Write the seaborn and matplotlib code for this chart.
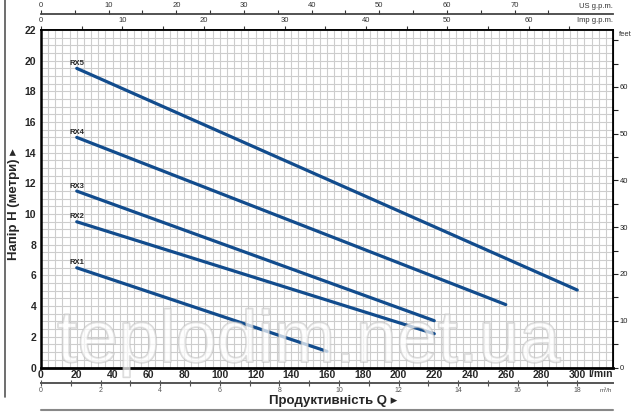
import numpy as np
import pandas as pd
import matplotlib
matplotlib.use("Agg")
import matplotlib.pyplot as plt
import matplotlib.patheffects as pe
from matplotlib.lines import Line2D
from matplotlib.ticker import MultipleLocator, FixedLocator
import seaborn as sns

# ---- data ----
models = ["RX1", "RX2", "RX3", "RX4", "RX5"]
flow_start = [20, 20, 20, 20, 20]          # l/min
flow_end = [160, 220, 220, 260, 300]       # l/min
head_start = [6.5, 9.5, 11.5, 15.0, 19.5]  # m
head_end = [1.05, 2.2, 3.05, 4.1, 5.05]    # m

x_ticks = list(range(0, 301, 20))
y_ticks = list(range(0, 23, 2))
us_gpm_ticks = list(range(0, 71, 10))
imp_gpm_ticks = list(range(0, 61, 10))
m3h_ticks = list(range(0, 19, 2))
feet_ticks = list(range(0, 61, 10))

BLUE = "#124c8d"
FAM = ["Liberation Sans", "DejaVu Sans"]

sns.set_style("white")
plt.rcParams["font.family"] = FAM

fig = plt.figure(figsize=(6.4, 4.16), dpi=100)
W, H = 640, 416
L, R, T, B = 41, 613, 30, 367.5
ax = fig.add_axes([L / W, 1 - B / H, (R - L) / W, (B - T) / H])

df = pd.DataFrame({
    "model": models + models,
    "flow": flow_start + flow_end,
    "head": head_start + head_end,
})
sns.lineplot(data=df, x="flow", y="head", hue="model", palette=[BLUE] * 5,
             linewidth=2.3, legend=False, ax=ax, estimator=None, sort=True)

ax.set_xlim(0, 320)
ax.set_ylim(0, 22)
ax.set_xticks(x_ticks)
ax.set_yticks(y_ticks)
ax.xaxis.set_minor_locator(MultipleLocator(4))
ax.yaxis.set_minor_locator(MultipleLocator(0.5))
ax.grid(which="both", color="#cdcdcd", linewidth=0.8)
ax.set_axisbelow(True)
ax.set_xlabel("")
ax.set_ylabel("")
ax.tick_params(which="both", length=0)
ax.tick_params(axis="x", pad=2)
ax.tick_params(axis="y", pad=3.5)
for lab in ax.get_xticklabels() + ax.get_yticklabels():
    lab.set_fontweight("bold")
    lab.set_fontsize(7.5)

for side, lw in (("left", 1.8), ("bottom", 2.0), ("top", 1.3), ("right", 1.3)):
    ax.spines[side].set_visible(True)
    ax.spines[side].set_color("black")
    ax.spines[side].set_linewidth(lw)

# model labels
for m, x0, y0 in zip(models, flow_start, head_start):
    ax.text(x0 - 4.3, y0 + 0.22, m, fontsize=5.5, fontweight="bold",
            ha="left", va="baseline")

# ---- secondary axes ----
sec_style = dict(direction="out", length=3, width=0.8, labelsize=5.5,
                 pad=1, colors="#333333")

imp = ax.secondary_xaxis("top", functions=(lambda q: q / 4.54609, lambda g: g * 4.54609))
imp.set_xticks(imp_gpm_ticks)
imp.xaxis.set_minor_locator(FixedLocator(list(range(5, 66, 10))))
imp.tick_params(which="both", **sec_style)
imp.spines["top"].set_linewidth(1.3)

us = ax.secondary_xaxis(1 + 15.5 / (B - T),
                        functions=(lambda q: q / 3.785411784, lambda g: g * 3.785411784))
us.set_xticks(us_gpm_ticks)
us.xaxis.set_minor_locator(FixedLocator(list(range(5, 76, 10))))
us.tick_params(which="both", **sec_style)
us.spines["top"].set_color("#444444")
us.spines["top"].set_linewidth(1.3)

m3 = ax.secondary_xaxis(-(383 - B) / (B - T),
                        functions=(lambda q: q * 0.06, lambda v: v / 0.06))
m3.set_xticks(m3h_ticks)
m3.xaxis.set_minor_locator(FixedLocator(list(range(1, 18, 2))))
m3.tick_params(which="both", direction="inout", length=4, width=0.8,
               labelsize=5, pad=1, colors="#555555")
m3.spines["bottom"].set_color("#555555")
m3.spines["bottom"].set_linewidth(1.4)

ft = ax.secondary_yaxis("right", functions=(lambda m: m * 3.28084, lambda f: f / 3.28084))
ft.set_yticks(feet_ticks)
ft.yaxis.set_minor_locator(FixedLocator(list(range(5, 71, 10)) + [70]))
ft.tick_params(which="both", direction="out", length=3.5, width=0.8,
               labelsize=5.5, pad=1.5, colors="#222222")

# ---- figure texts ----
fig.text(613 / W, 1 - 7 / H, "US g.p.m.", ha="right", va="center", fontsize=5.5,
         color="#333333")
fig.text(613 / W, 1 - 21 / H, "Imp g.p.m.", ha="right", va="center", fontsize=5.5,
         color="#333333")
fig.text(619 / W, 1 - 34 / H, "feet", ha="left", va="center", fontsize=5.5,
         color="#333333")
fig.text(613 / W, 1 - 374 / H, "l/min", ha="right", va="center", fontsize=7.5,
         fontweight="bold")
fig.text(612 / W, 1 - 391 / H, "m³/h", ha="right", va="center", fontsize=4.5,
         color="#555555")
fig.text(333 / W, 1 - 401 / H, "Продуктивність Q ▸", ha="center", va="center",
         fontsize=9.5, fontweight="bold")
fig.text(14 / W, 1 - 204 / H, "Напір H (метри) ▸", ha="center", va="center",
         fontsize=9.5, fontweight="bold", rotation=90)

fig.add_artist(Line2D([5 / W, 5 / W], [1 - 397 / H, 1.0], color="#555555", lw=1.2))
fig.add_artist(Line2D([L / W, R / W], [1 - 410 / H, 1 - 410 / H], color="#888888", lw=1.5))

# watermark (semi-transparent outlined text)
fig.text(57 / W, 1 - 362 / H, "teplodim.net.ua", ha="left", va="baseline",
         fontsize=53, color=(1, 1, 1, 0.3), family=["Liberation Sans"],
         path_effects=[pe.Stroke(linewidth=1.3, foreground="#bdbdbd", alpha=0.6),
                       pe.Normal()])

fig.savefig("out.png", dpi=100)
